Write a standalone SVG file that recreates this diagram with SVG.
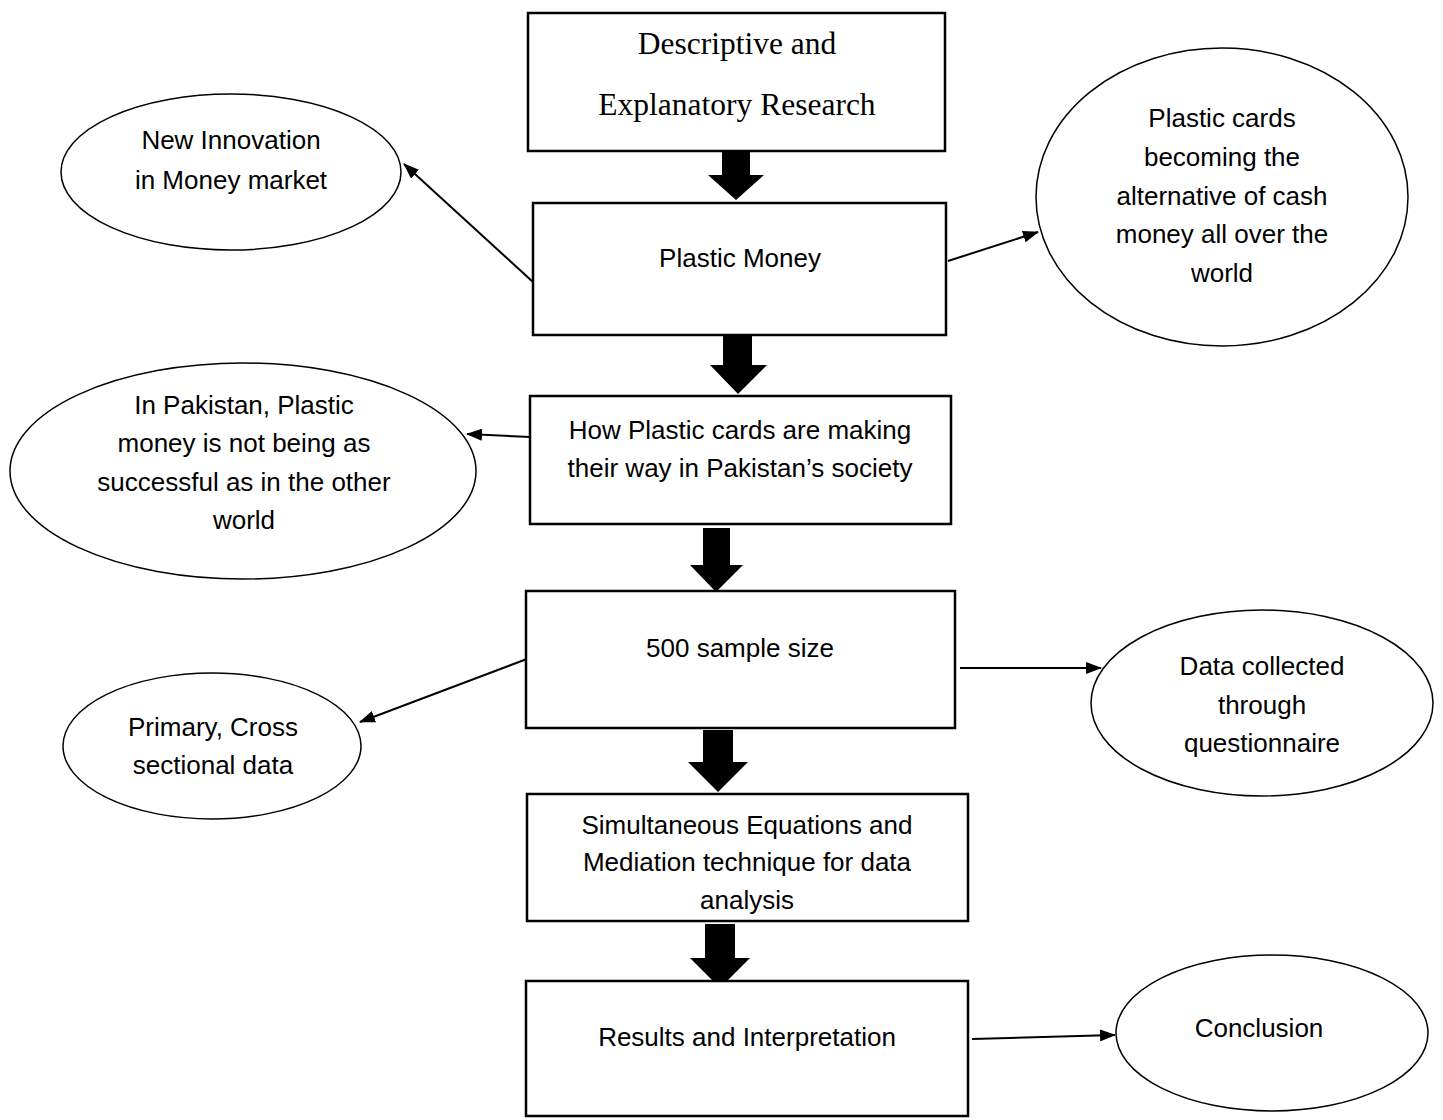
<svg xmlns="http://www.w3.org/2000/svg" width="1443" height="1120" viewBox="0 0 1443 1120">
<style>
.box{fill:#fff;stroke:#000;stroke-width:2.5}
.ell{fill:#fff;stroke:#000;stroke-width:1.5}
.t{font-family:"Liberation Sans",Arial,sans-serif;font-size:26px;fill:#000;text-anchor:middle}
.s{font-family:"Liberation Serif","Times New Roman",serif;font-size:31.5px;fill:#000;text-anchor:middle}
.c{stroke:#000;stroke-width:2;fill:none;marker-end:url(#ah)}
.big{fill:#000}
</style>
<defs>
<marker id="ah" markerWidth="16" markerHeight="12" refX="15" refY="6" orient="auto" markerUnits="userSpaceOnUse">
<path d="M0,0 L16,6 L0,12 Z" fill="#000"/>
</marker>
</defs>
<rect width="1443" height="1120" fill="#fff"/>
<g id="connectors">
<path class="big" d="M722,151 H750 V175 H764 L736,200 L708,175 H722 Z"/>
<path class="big" d="M723,335 H752 V365 H767 L738,394 L710,365 H723 Z"/>
<path class="big" d="M703,528 H730 V565 H743 L716,592 L690,565 H703 Z"/>
<path class="big" d="M703,730 H733 V762 H748 L718,792 L688,762 H703 Z"/>
<path class="big" d="M705,924 H735 V958 H750 L720,988 L690,958 H705 Z"/>
<line class="c" x1="533" y1="282" x2="404" y2="164"/>
<line class="c" x1="948" y1="261" x2="1038" y2="232"/>
<line class="c" x1="530" y1="437" x2="467" y2="434"/>
<line class="c" x1="532" y1="657" x2="360" y2="722"/>
<line class="c" x1="960" y1="668" x2="1101" y2="668"/>
<line class="c" x1="972" y1="1039" x2="1115" y2="1035"/>
</g>
<g id="box1"><rect class="box" x="528" y="13" width="417" height="138"/>
<text class="s" x="737" y="54">Descriptive and</text>
<text class="s" x="737" y="115">Explanatory Research</text></g>
<g id="box2"><rect class="box" x="533" y="203" width="413" height="132"/>
<text class="t" x="740" y="267">Plastic Money</text></g>
<g id="box3"><rect class="box" x="530" y="396" width="421" height="128"/>
<text class="t" x="740" y="439">How Plastic cards are making</text>
<text class="t" x="740" y="477">their way in Pakistan’s society</text></g>
<g id="box4"><rect class="box" x="526" y="591" width="429" height="137"/>
<text class="t" x="740" y="657">500 sample size</text></g>
<g id="box5"><rect class="box" x="527" y="794" width="441" height="127"/>
<text class="t" x="747" y="834">Simultaneous Equations and</text>
<text class="t" x="747" y="871">Mediation technique for data</text>
<text class="t" x="747" y="909">analysis</text></g>
<g id="box6"><rect class="box" x="526" y="981" width="442" height="135"/>
<text class="t" x="747" y="1046">Results and Interpretation</text></g>
<g id="e1"><ellipse class="ell" cx="231" cy="172" rx="170" ry="78"/>
<text class="t" x="231" y="149">New Innovation</text>
<text class="t" x="231" y="189">in Money market</text></g>
<g id="e2"><ellipse class="ell" cx="1222" cy="197" rx="186" ry="149"/>
<text class="t" x="1222" y="127">Plastic cards</text>
<text class="t" x="1222" y="166">becoming the</text>
<text class="t" x="1222" y="205">alternative of cash</text>
<text class="t" x="1222" y="243">money all over the</text>
<text class="t" x="1222" y="282">world</text></g>
<g id="e3"><ellipse class="ell" cx="243" cy="471" rx="233" ry="108"/>
<text class="t" x="244" y="414">In Pakistan, Plastic</text>
<text class="t" x="244" y="452">money is not being as</text>
<text class="t" x="244" y="491">successful as in the other</text>
<text class="t" x="244" y="529">world</text></g>
<g id="e4"><ellipse class="ell" cx="212" cy="746" rx="149" ry="73"/>
<text class="t" x="213" y="736">Primary, Cross</text>
<text class="t" x="213" y="774">sectional data</text></g>
<g id="e5"><ellipse class="ell" cx="1262" cy="703" rx="171" ry="93"/>
<text class="t" x="1262" y="675">Data collected</text>
<text class="t" x="1262" y="714">through</text>
<text class="t" x="1262" y="752">questionnaire</text></g>
<g id="e6"><ellipse class="ell" cx="1272" cy="1033" rx="156" ry="78"/>
<text class="t" x="1259" y="1037">Conclusion</text></g>
</svg>
